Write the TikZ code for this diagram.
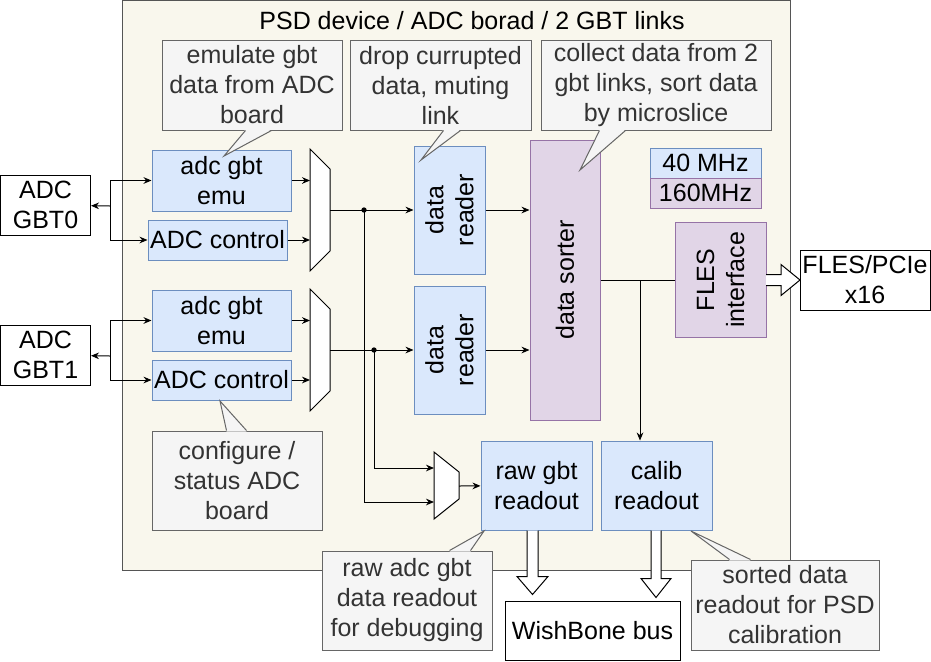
\documentclass[tikz,border=0pt]{standalone}
\usepackage{fontspec}
\setmainfont{Liberation Sans}
\usetikzlibrary{arrows.meta,calc}
\definecolor{bluefill}{HTML}{DAE8FC}
\definecolor{blueline}{HTML}{6C8EBF}
\definecolor{purplefill}{HTML}{E1D5E7}
\definecolor{purpleline}{HTML}{9673A6}
\definecolor{notefill}{HTML}{F5F5F5}
\definecolor{noteline}{HTML}{666666}
\definecolor{notetext}{HTML}{333333}
\definecolor{devfill}{HTML}{F9F7ED}
\definecolor{devline}{HTML}{555555}

\begin{document}
\begin{tikzpicture}[x=0.75pt,y=-0.75pt,line width=0.75pt,
    font=\fontsize{18.75}{22.5}\selectfont,
    sz/.style 2 args={minimum width=#1*0.75pt,minimum height=#2*0.75pt},
    blk/.style={draw=blueline,fill=bluefill,align=center,inner sep=1pt},
    sblk/.style={draw=purpleline,fill=purplefill,align=center,inner sep=1pt},
    ext/.style={draw=black,fill=white,align=center,inner sep=1pt},
    note/.style={draw=noteline,fill=notefill,text=notetext,align=center,inner sep=1pt},
    arw/.style={-{Stealth[length=6pt,width=5pt]}},
    mux/.style={draw=black,fill=white},
    bigarrow/.style={draw=black,fill=white}]
    \useasboundingbox (0,0) rectangle (931,661);

    % device frame
    \node[draw=devline,fill=devfill,sz={668}{570}] (psd) at (456,285) {};
    \node (title) at (472,21) {PSD device / ADC borad / 2 GBT links};

    % input side
    \node[blk,sz={139}{61}] (emu0)  at (221.5,180.5) {adc gbt\\emu};
    \node[blk,sz={139}{40}] (ctrl0) at (217.5,240)   {ADC control};
    \node[blk,sz={139}{61}] (emu1)  at (221.5,320.5) {adc gbt\\emu};
    \node[blk,sz={139}{40}] (ctrl1) at (221.5,380)   {ADC control};

    \node[ext,sz={90}{60}] (gbt0) at (45.5,205) {ADC\\GBT0};
    \node[ext,sz={90}{60}] (gbt1) at (45.5,355) {ADC\\GBT1};

    % muxes
    \draw[mux] (310,149) -- (330,169) -- (330,251) -- (310,271) -- cycle;
    \draw[mux] (310,289) -- (330,309) -- (330,391) -- (310,411) -- cycle;
    \draw[mux] (434,452) -- (459,472) -- (459,499) -- (434,519) -- cycle;
    \coordinate (m0w) at (310,210);
    \coordinate (m0e) at (330,210);
    \coordinate (m1w) at (310,350);
    \coordinate (m1e) at (330,350);
    \coordinate (m2a) at (434,468);
    \coordinate (m2b) at (434,502);
    \coordinate (m2e) at (459,486);

    % readers, sorter, outputs
    \node[blk,sz={128}{71},rotate=90] (reader0) at (449.5,210) {data\\reader};
    \node[blk,sz={128}{71},rotate=90] (reader1) at (449.5,350) {data\\reader};
    \node[sblk,sz={280}{70},rotate=90] (sorter) at (565,280) {data sorter};
    \node[sblk,sz={115}{91},rotate=90] (fles) at (720.5,280) {FLES\\interface};
    \node[blk,sz={111}{30}]  (clk40)  at (705.5,163) {40 MHz};
    \node[sblk,sz={111}{30}] (clk160) at (705.5,193) {160MHz};
    \node[blk,sz={111}{89}] (raw)   at (536.5,485.5) {raw gbt\\readout};
    \node[blk,sz={111}{89}] (calib) at (656.5,485.5) {calib\\readout};

    \node[ext,sz={130}{60}] (pcie) at (865,280) {FLES/PCIe\\x16};
    \node[ext,sz={175}{59}] (wb) at (592.5,630.5) {WishBone bus};

    % links
    \coordinate (br0) at (110,206);
    \coordinate (br1) at (110,356);
    \draw[arw] (br0) -- (gbt0);
    \draw[arw] (br0) |- (emu0);
    \draw[arw] (br0) |- (ctrl0);
    \draw[arw] (br1) -- (gbt1);
    \draw[arw] (br1) |- (emu1);
    \draw[arw] (br1) |- (ctrl1);

    \draw[arw] (emu0.east)  -- (emu0.east -| m0w);
    \draw[arw] (ctrl0.east) -- (ctrl0.east -| m0w);
    \draw[arw] (emu1.east)  -- (emu1.east -| m1w);
    \draw[arw] (ctrl1.east) -- (ctrl1.east -| m1w);

    \coordinate (j0) at (364,210);
    \coordinate (j1) at (374,350);
    \draw[arw] (m0e) -- (reader0);
    \draw[arw] (m1e) -- (reader1);
    \fill (j0) circle (2pt);
    \fill (j1) circle (2pt);
    \draw[arw] (j0) |- (m2b);
    \draw[arw] (j1) |- (m2a);
    \draw[arw] (m2e) -- (raw);

    \draw[arw] (reader0) -- (reader0 -| sorter.north);
    \draw[arw] (reader1) -- (reader1 -| sorter.north);
    \coordinate (j2) at (640,280);
    \draw (sorter) -- (fles);
    \draw[arw] (j2) -- (j2 |- calib.north);

    % wide arrows
    \draw[bigarrow] (raw.south) ++(-9.5,0) -- ++(0,46) -- ++(-10,0) -- ++(15.5,18)
        -- ++(15.5,-18) -- ++(-10,0) -- ++(0,-46);
    \draw[bigarrow] (calib.south) ++(-5.5,0) -- ++(0,48) -- ++(-10,0) -- ++(15,19)
        -- ++(15,-19) -- ++(-10,0) -- ++(0,-48);
    \draw[bigarrow] (fles.center) ++(45.5,-5.5) -- ++(15,0) -- ++(0,-10) -- ++(19,15.5)
        -- ++(-19,15.5) -- ++(0,-10) -- ++(-15,0);

    % notes
    \node[note,sz={180}{90}] (n-emu)  at (252,85)    {emulate gbt\\data from ADC\\board};
    \node[note,sz={181}{90}] (n-drop) at (440.5,85)  {drop currupted\\data, muting\\link};
    \node[note,sz={230}{90}] (n-sort) at (656,85)    {collect data from 2\\gbt links, sort data\\by microslice};
    \node[note,sz={170}{99}] (n-cfg)  at (237,480.5) {configure /\\status ADC\\board};
    \node[note,sz={170}{99}] (n-raw)  at (407,600.5) {raw adc gbt\\data readout\\for debugging};
    \node[note,sz={188}{90}] (n-cal)  at (785,605)   {sorted data\\readout for PSD\\calibration};

    \fill[notefill] ($(n-emu.south west)+(84,-1)$) -- (224,156) -- ($(n-emu.south west)+(110,-1)$) -- cycle;
    \draw[noteline] ($(n-emu.south west)+(84,0)$) -- (224,156) -- ($(n-emu.south west)+(110,0)$);
    \fill[notefill] ($(n-drop.south west)+(94,-1)$) -- (421,160) -- ($(n-drop.south west)+(111,-1)$) -- cycle;
    \draw[noteline] ($(n-drop.south west)+(94,0)$) -- (421,160) -- ($(n-drop.south west)+(111,0)$);
    \fill[notefill] ($(n-sort.south west)+(59,-1)$) -- (580,170) -- ($(n-sort.south west)+(85,-1)$) -- cycle;
    \draw[noteline] ($(n-sort.south west)+(59,0)$) -- (580,170) -- ($(n-sort.south west)+(85,0)$);
    \fill[notefill] ($(n-cfg.north west)+(75,1)$) -- (220,401) -- ($(n-cfg.north west)+(95,1)$) -- cycle;
    \draw[noteline] ($(n-cfg.north west)+(75,0)$) -- (220,401) -- ($(n-cfg.north west)+(95,0)$);
    \fill[notefill] ($(n-raw.north west)+(128,1)$) -- (484,531) -- ($(n-raw.north west)+(149,1)$) -- cycle;
    \draw[noteline] ($(n-raw.north west)+(128,0)$) -- (484,531) -- ($(n-raw.north west)+(149,0)$);
    \fill[notefill] ($(n-cal.north west)+(39,1)$) -- (691,531) -- ($(n-cal.north west)+(60,1)$) -- cycle;
    \draw[noteline] ($(n-cal.north west)+(39,0)$) -- (691,531) -- ($(n-cal.north west)+(60,0)$);
\end{tikzpicture}
\end{document}
